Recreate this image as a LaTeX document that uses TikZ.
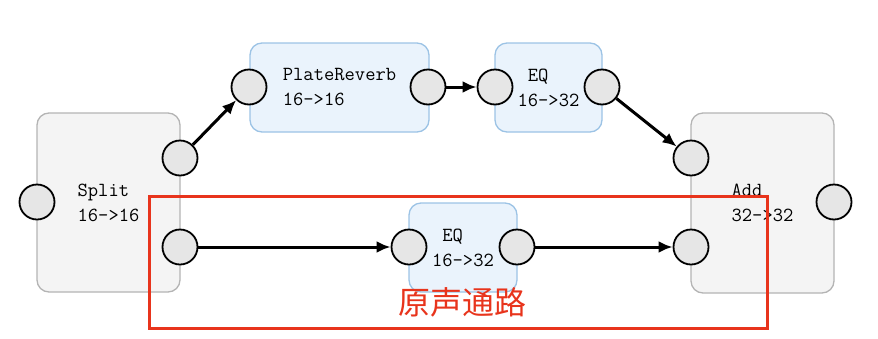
\documentclass[tikz,border=0pt]{standalone}
\usepackage{fontspec}
\usetikzlibrary{arrows.meta,positioning}
\newfontfamily\cjk{Noto Sans CJK SC}
\definecolor{boxgray}{HTML}{F4F4F4}
\definecolor{edgegray}{HTML}{B4B4B4}
\definecolor{boxblue}{HTML}{EAF3FC}
\definecolor{edgeblue}{HTML}{9CC3E5}
\definecolor{portfill}{HTML}{E6E6E6}
\definecolor{pathred}{HTML}{E8341C}
\tikzset{
  module/.style={draw=edgegray,fill=boxgray,rounded corners=12pt,line width=1.3pt,
                 font=\fontsize{20}{25}\selectfont\ttfamily,align=left,inner sep=0pt},
  effect/.style={module,draw=edgeblue,fill=boxblue},
  port/.style={circle,draw=black,fill=portfill,line width=1.8pt,
               minimum size=35pt,inner sep=0pt},
  arrow/.style={-{Latex[length=14pt,width=12pt]},line width=3pt},
  region/.style={draw=pathred,line width=3pt}
}
\begin{document}
\begin{tikzpicture}[x=1pt,y=-1pt]
\useasboundingbox (0,0) rectangle (878,338);
% modules
\node[module,minimum width=143pt,minimum height=179pt] (split) at (108.5,202.5) {Split\\16->16};
\node[effect,minimum width=179pt,minimum height=89pt] (reverb) at (339.5,87.5) {PlateReverb\\16->16};
\node[effect,minimum width=107pt,minimum height=89pt] (eqa) at (548.5,87.5) {\phantom{0}EQ\\16->32};
\node[effect,minimum width=108pt,minimum height=89pt] (eqb) at (463,247.5) {\phantom{0}EQ\\16->32};
\node[module,minimum width=143pt,minimum height=180pt] (add) at (762.5,203) {Add\\32->32};
% ports
\node[port] (splitin) at (37,202) {};
\node[port] (splitouta) at (180,158) {};
\node[port] (splitoutb) at (180,247) {};
\node[port] (reverbin) at (249,87) {};
\node[port] (reverbout) at (428,87) {};
\node[port] (eqain) at (495,87) {};
\node[port] (eqaout) at (602,87) {};
\node[port] (eqbin) at (409,247) {};
\node[port] (eqbout) at (517,247) {};
\node[port] (addina) at (691,158) {};
\node[port] (addinb) at (691,247) {};
\node[port] (addout) at (834,202) {};
% links
\draw[arrow] (splitouta)--(reverbin);
\draw[arrow] (reverbout)--(eqain);
\draw[arrow] (eqaout)--(addina);
\draw[arrow] (splitoutb)--(eqbin);
\draw[arrow] (eqbout)--(addinb);
% dry path
\draw[region] (149,196) rectangle (767,328);
\node[text=pathred,font=\cjk\fontsize{32}{36}\selectfont] (drylabel) at (462,302) {原声通路};
\end{tikzpicture}
\end{document}
